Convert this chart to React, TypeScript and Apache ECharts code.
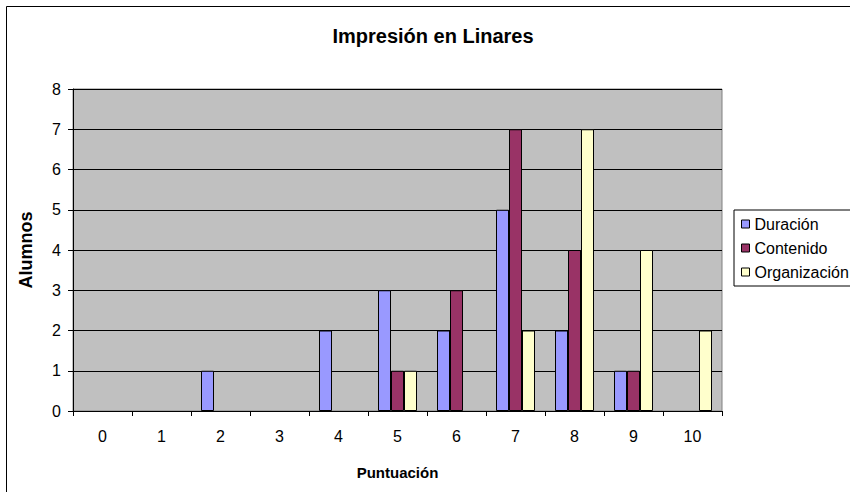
import React, { useEffect, useRef } from "react";
import * as echarts from "echarts";

const categories = ["0", "1", "2", "3", "4", "5", "6", "7", "8", "9", "10"];
const duracion = [0, 0, 1, 0, 2, 3, 2, 5, 2, 1, 0];
const contenido = [0, 0, 0, 0, 0, 1, 3, 7, 4, 1, 0];
const organizacion = [0, 0, 0, 0, 0, 1, 0, 2, 7, 4, 2];
const seriesNames = ["Duración", "Contenido", "Organización"];
const seriesColors = ["#9999FF", "#993366", "#FFFFCC"];

const FONT = "'Liberation Sans', Arial, sans-serif";

export default function App() {
  const ref = useRef<HTMLDivElement>(null);
  useEffect(() => {
    document.body.style.margin = "0";
    const chart = echarts.init(ref.current!, null, { renderer: "svg" });
    const data = [duracion, contenido, organizacion];
    chart.setOption({
      animation: false,
      backgroundColor: "#ffffff",
      textStyle: { fontFamily: FONT },
      title: {
        text: "Impresión en Linares",
        left: 433,
        top: 26,
        padding: 0,
        textAlign: "center",
        textStyle: { fontFamily: FONT, fontSize: 20, fontWeight: "bold", color: "#000" },
      },
      legend: {
        orient: "vertical",
        left: 734,
        top: 210,
        padding: [6, 8, 6, 7],
        itemGap: 8,
        itemWidth: 8,
        itemHeight: 8,
        borderColor: "#000",
        borderWidth: 1,
        borderRadius: 0,
        icon: "rect",
        itemStyle: { borderColor: "#000", borderWidth: 1 },
        textStyle: { fontFamily: FONT, fontSize: 16, color: "#000" },
        data: seriesNames,
      },
      grid: {
        left: 73,
        right: 128,
        top: 89,
        bottom: 81,
        show: true,
        backgroundColor: "#C0C0C0",
        borderColor: "#808080",
        borderWidth: 1,
      },
      xAxis: {
        type: "category",
        data: categories,
        boundaryGap: true,
        name: "Puntuación",
        nameLocation: "middle",
        nameGap: 54,
        nameTextStyle: { fontFamily: FONT, fontSize: 15, fontWeight: "bold", color: "#000" },
        axisLine: { show: true, lineStyle: { color: "#000", width: 1 } },
        axisTick: { show: true, length: 5, inside: false, lineStyle: { color: "#000" } },
        axisLabel: { fontFamily: FONT, fontSize: 16, color: "#000", margin: 17 },
        splitLine: { show: false },
      },
      yAxis: {
        type: "value",
        min: 0,
        max: 8,
        interval: 1,
        name: "Alumnos",
        nameLocation: "middle",
        nameRotate: 90,
        nameGap: 38,
        nameTextStyle: { fontFamily: FONT, fontSize: 18, fontWeight: "bold", color: "#000" },
        axisLine: { show: true, lineStyle: { color: "#000", width: 1 } },
        axisTick: { show: true, length: 5, inside: false, lineStyle: { color: "#000" } },
        axisLabel: { fontFamily: FONT, fontSize: 16, color: "#000", margin: 12 },
        splitLine: { show: true, lineStyle: { color: "#000", width: 1 } },
      },
      graphic: [
        {
          type: "rect",
          shape: { x: 6.5, y: 6.5, width: 1000, height: 1000 },
          style: { fill: "none", stroke: "#000", lineWidth: 1 },
          silent: true,
        },
      ],
      series: seriesNames.map((name, i) => ({
        name,
        type: "bar",
        data: data[i].map((v) => (v === 0 ? { value: v, itemStyle: { borderWidth: 0 } } : v)),
        barWidth: 13,
        barGap: "0%",
        itemStyle: { color: seriesColors[i], borderColor: "#000", borderWidth: 1 },
      })),
    });
    return () => chart.dispose();
  }, []);
  return <div ref={ref} style={{ width: 850, height: 492 }} />;
}
